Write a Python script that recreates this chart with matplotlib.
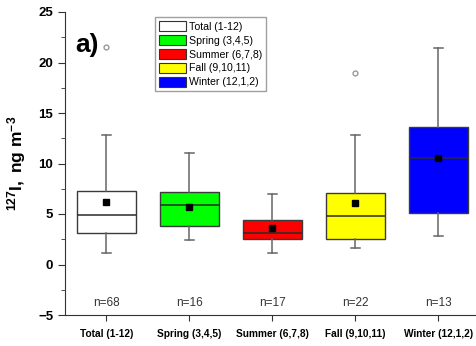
import matplotlib
matplotlib.use("Agg")
import matplotlib.pyplot as plt
from matplotlib.patches import Patch
from matplotlib.ticker import MultipleLocator

plt.rcParams['font.family'] = ['Liberation Sans', 'DejaVu Sans']
plt.rcParams['mathtext.fontset'] = 'custom'
plt.rcParams['mathtext.rm'] = 'Liberation Sans'
plt.rcParams['mathtext.bf'] = 'Liberation Sans:bold'
plt.rcParams['mathtext.it'] = 'Liberation Sans:italic'

categories = ["Total (1-12)", "Spring (3,4,5)", "Summer (6,7,8)", "Fall (9,10,11)", "Winter (12,1,2)"]
colors = ["#ffffff", "#00ff00", "#ff0000", "#ffff00", "#0000ff"]
whislo = [1.15, 2.4, 1.15, 1.6, 2.8]
q1 = [3.15, 3.8, 2.55, 2.5, 5.1]
med = [4.9, 5.85, 3.15, 4.85, 10.55]
q3 = [7.3, 7.2, 4.4, 7.1, 13.65]
whishi = [12.8, 11.0, 6.95, 12.8, 21.45]
means = [6.15, 5.65, 3.6, 6.05, 10.55]
fliers = [[21.5], [], [], [18.95], []]
counts = [68, 16, 17, 22, 13]

fig = plt.figure(figsize=(4.77, 3.46), dpi=100)
ax = fig.add_axes([65/477, 1 - 315/346, 412/477, 303/346])

stats = []
for i in range(len(categories)):
    stats.append(dict(whislo=whislo[i], q1=q1[i], med=med[i], q3=q3[i],
                      whishi=whishi[i], mean=means[i], fliers=fliers[i]))
positions = list(range(1, len(categories) + 1))
bp = ax.bxp(stats, positions=positions, widths=0.71, patch_artist=True,
            showmeans=True, capwidths=0.12,
            boxprops=dict(edgecolor="#3a3a3a", linewidth=1.0),
            medianprops=dict(color="#2a2a2a", linewidth=1.1),
            whiskerprops=dict(color="#666666", linewidth=1.1),
            capprops=dict(color="#666666", linewidth=1.1),
            meanprops=dict(marker="s", markerfacecolor="black", markeredgecolor="black", markersize=3.8),
            flierprops=dict(marker="o", markerfacecolor="none", markeredgecolor="#999999", markersize=3.5, markeredgewidth=1.0))
for patch, c in zip(bp['boxes'], colors):
    patch.set_facecolor(c)

for p, n in zip(positions, counts):
    ax.text(p, -3.85, f"n={n}", ha="center", va="center", fontsize=8.5, color="#333333")

ax.set_xlim(0.5, 0.5 + 412/83)
ax.set_ylim(-5, 25)
ax.yaxis.set_major_locator(MultipleLocator(5))
ax.yaxis.set_minor_locator(MultipleLocator(2.5))
ax.set_xticks(positions)
ax.set_xticklabels(categories, fontsize=7.3, fontweight="bold")
for lbl in ax.get_yticklabels():
    lbl.set_fontweight("bold")
ax.tick_params(axis="y", which="major", labelsize=9.5, length=5, direction="out", color="#333333")
ax.tick_params(axis="y", which="minor", length=3, direction="out", color="#333333")
ax.tick_params(axis="x", which="major", length=4, direction="out", color="#333333", pad=6)
ax.spines["top"].set_visible(False)
ax.spines["right"].set_visible(False)
ax.spines["left"].set_color("#333333")
ax.spines["bottom"].set_color("#333333")

ax.set_ylabel(r"$\mathbf{^{127}I,\ ng\ m^{-3}}$", fontsize=12.5)
ax.yaxis.set_label_coords(-0.09, 0.5)

ax.text(0.62, 21.75, "a)", fontsize=19, fontweight="bold", ha="left", va="center")

handles = [Patch(facecolor=c, edgecolor="#333333", linewidth=0.8) for c in colors]
leg = ax.legend(handles, categories, loc="upper left", bbox_to_anchor=((155 - 65)/412, (315 - 17)/303),
                fontsize=7.6, frameon=True, fancybox=False, handlelength=2.5, handleheight=1.1,
                labelspacing=0.3, handletextpad=0.3, borderpad=0.4, borderaxespad=0)
leg.get_frame().set_edgecolor("#888888")
leg.get_frame().set_linewidth(1.0)

fig.savefig("out.png", dpi=100)
